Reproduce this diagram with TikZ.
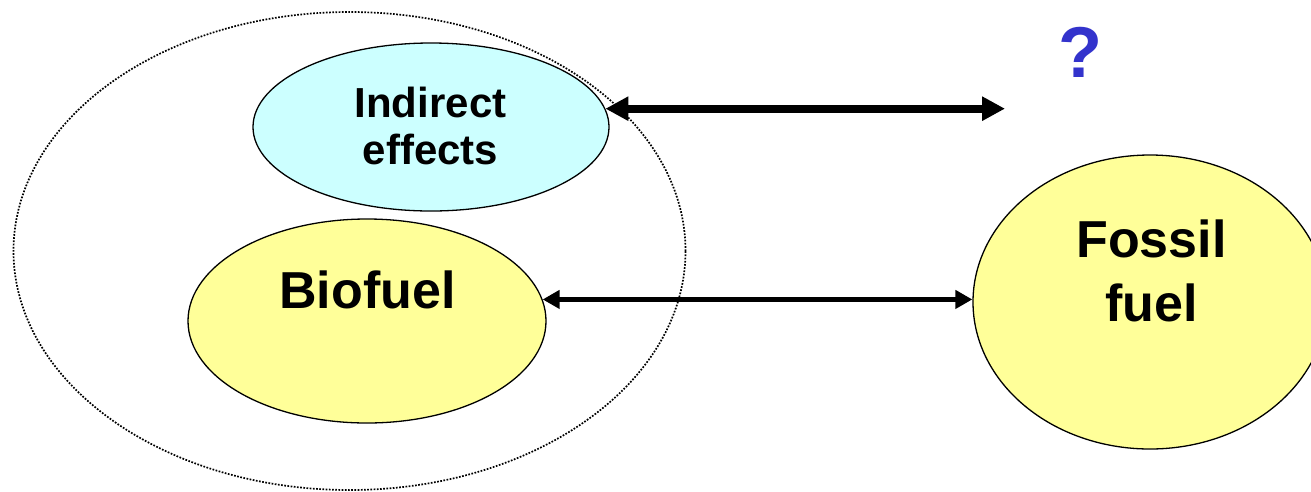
\documentclass[tikz,border=0pt]{standalone}
\usepackage{fontspec}
\setmainfont{Liberation Sans}
\usetikzlibrary{shapes.geometric,arrows.meta}
\definecolor{bioyellow}{HTML}{FFFF99}
\definecolor{indcyan}{HTML}{CCFFFF}
\definecolor{qblue}{HTML}{3333CC}
\begin{document}
\begin{tikzpicture}[x=1pt,y=-1pt,
  ell/.style={ellipse, draw=black, line width=1.3pt, inner sep=0pt},
  lbl/.style={align=center, text=black, inner sep=0pt}]
\useasboundingbox (0,0) rectangle (1311,491);
\node[ell, fill=indcyan, minimum width=356pt, minimum height=168pt] (ind) at (431,127) {};
\node[ell, fill=bioyellow, minimum width=358pt, minimum height=204pt] (bio) at (367,321) {};
\node[ell, fill=bioyellow, minimum width=354pt, minimum height=294pt] (fossil) at (1150,302) {};
\node[ellipse, draw=black, line width=1.7pt, dash pattern=on 1.7pt off 1.5pt, inner sep=0pt,
      minimum width=672pt, minimum height=478pt] (scope) at (349.5,251) {};
\node[lbl, font=\fontsize{42}{47}\selectfont\bfseries] (indText) at (430.5,126) {Indirect\\effects};
\node[lbl, font=\fontsize{52}{63.5}\selectfont\bfseries] (bioText) at (367.5,290) {Biofuel};
\node[lbl, font=\fontsize{52}{63.5}\selectfont\bfseries] (fossilText) at (1151.5,271) {Fossil\\fuel};
\node[lbl, text=qblue, font=\fontsize{72}{80}\selectfont\bfseries] (q) at (1080,52) {?};
\coordinate (qend) at (1005,107);
\draw[line width=8pt, {Triangle[length=23pt,width=23pt]}-{Triangle[length=23pt,width=23pt]}]
  (ind.6.6) -- (ind.6.6 -| qend);
\draw[line width=5pt, {Triangle[length=17pt,width=18pt]}-{Triangle[length=17pt,width=18pt]}]
  (bio.7) -- (bio.7 -| fossil.west);
\end{tikzpicture}
\end{document}
